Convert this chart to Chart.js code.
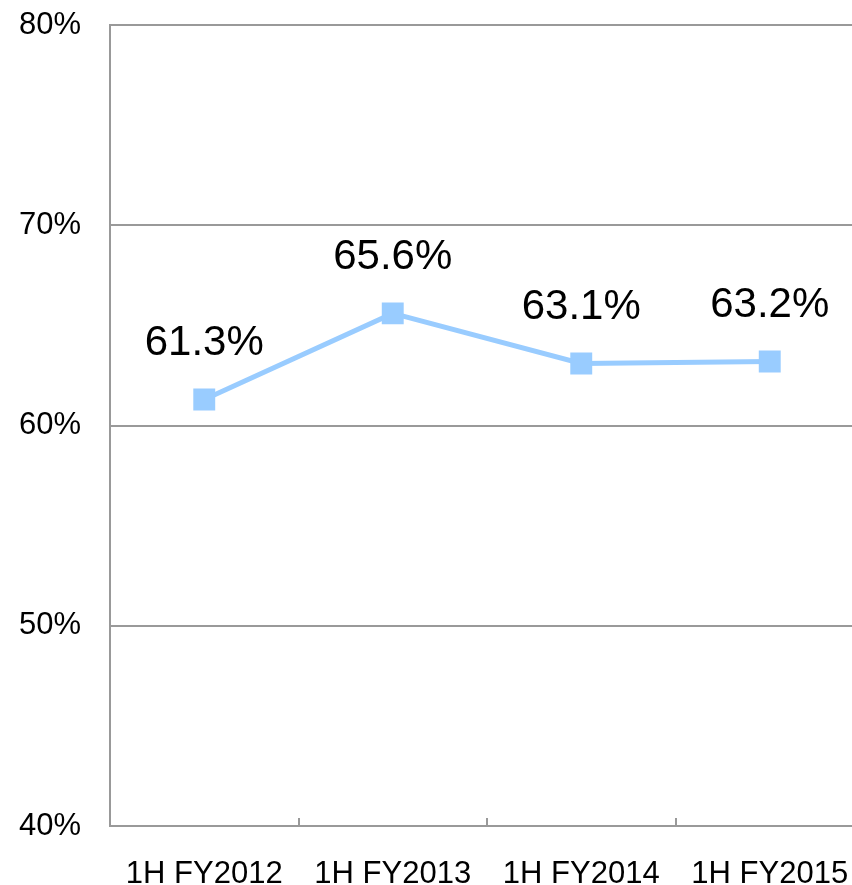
<!DOCTYPE html>
<html>
<head>
<meta charset="utf-8">
<script src="https://cdn.jsdelivr.net/npm/chart.js@4/dist/chart.umd.min.js"></script>
<style>
  html, body { margin: 0; padding: 0; background: #fff; overflow: hidden; }
  #ratio { display: block; }
</style>
</head>
<body>
<!-- plot runs a little past the right edge of the 852px picture -->
<canvas id="ratio" width="866" height="885"></canvas>
<script>
const categories = ["1H FY2012", "1H FY2013", "1H FY2014", "1H FY2015"];
const ratioValues = [61.3, 65.6, 63.1, 63.2];
const yTicks = [40, 50, 60, 70, 80];

const FONT = "'Liberation Sans', Arial, sans-serif";

// value labels above each point
const pointLabels = {
  id: 'pointLabels',
  afterDatasetsDraw(chart) {
    const ctx = chart.ctx;
    const meta = chart.getDatasetMeta(0);
    ctx.save();
    ctx.font = '42px ' + FONT;
    ctx.fillStyle = '#000';
    ctx.textAlign = 'center';
    ctx.textBaseline = 'middle';
    meta.data.forEach((pt, i) => {
      ctx.fillText(ratioValues[i].toFixed(1) + '%', pt.x, pt.y - 56);
    });
    ctx.restore();
  }
};

// no extra room for overhanging labels, the layout padding does it
function noPad(scale) {
  scale.paddingLeft = 0; scale.paddingRight = 0;
  scale.paddingTop = 0; scale.paddingBottom = 0;
}

const ratio = new Chart(document.getElementById("ratio"), {
  type: "line",
  data: {
    labels: categories,
    datasets: [{
      label: '',
      data: ratioValues,
      borderColor: '#99CCFF',
      backgroundColor: '#99CCFF',
      borderWidth: 5,
      tension: 0,
      pointStyle: 'rect',
      pointRadius: 15.5,
      pointBorderWidth: 0,
      pointBackgroundColor: '#99CCFF',
    }],
  },
  options: {
    responsive: false,
    animation: false,
    layout: { autoPadding: false, padding: { top: 25, right: 2, left: 0, bottom: 0 } },
    plugins: { legend: { display: false }, tooltip: { enabled: false } },
    scales: {
      x: {
        offset: true,
        afterFit(scale) { scale.height = 59; noPad(scale); },
        border: { display: true, color: '#999', width: 2 },
        grid: {
          offset: true,
          drawOnChartArea: false,
          drawTicks: true,
          tickLength: -8,
          color: '#999',
          lineWidth: 2,
        },
        ticks: {
          padding: 38,
          color: '#000',
          font: { family: FONT, size: 31 },
          maxRotation: 0,
          autoSkip: false,
        },
      },
      y: {
        min: 40,
        max: 80,
        afterFit(scale) { scale.width = 110; noPad(scale); },
        afterBuildTicks(scale) { scale.ticks = yTicks.map(v => ({ value: v })); },
        border: { display: true, color: '#999', width: 2 },
        grid: {
          color: '#999',
          lineWidth: 2,
          drawTicks: false,
        },
        ticks: {
          padding: 29,
          color: '#000',
          font: { family: FONT, size: 31 },
          callback: v => v + '%',
        },
      },
    },
  },
  plugins: [pointLabels],
});
</script>
</body>
</html>
